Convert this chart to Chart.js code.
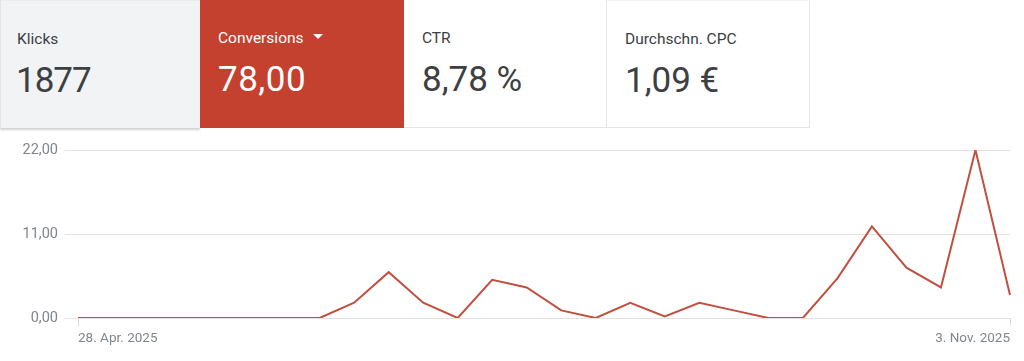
<!DOCTYPE html>
<html>
<head>
<meta charset="utf-8">
<script src="https://cdn.jsdelivr.net/npm/chart.js@4/dist/chart.umd.min.js"></script>
<style>
  html, body { margin: 0; padding: 0; background: #ffffff; }
  body { width: 1024px; height: 361px; position: relative; overflow: hidden; font-family: Roboto, "Noto Sans", sans-serif; }
  .card { position: absolute; top: 0; height: 128px; box-sizing: border-box; }
  .lbl { position: absolute; left: 16px; top: 29px; font-size: 15.5px; line-height: 18px; }
  .val { position: absolute; left: 15px; top: 59px; font-size: 35px; line-height: 42px; }
  #c1 { left: 0; width: 200px; background: #f1f3f4; border-left: 1px solid #e3e3e3; border-top: 1px solid #ececec; box-shadow: 0 2px 2px rgba(0,0,0,0.18); color: #3c4043; }
  #c2 { left: 200px; width: 204px; background: #c5412f; color: #ffffff; }
  #c3 { left: 404px; width: 203px; background: #fff; border-right: 1px solid #e6e6e6; border-bottom: 1px solid #e6e6e6; color: #3c4043; }
  #c4 { left: 607px; width: 203px; background: #fff; border-right: 1px solid #e6e6e6; border-bottom: 1px solid #e6e6e6; border-top: 1px solid #f0f0f0; color: #3c4043; }
  .tri { display: inline-block; width: 0; height: 0; border-left: 5px solid transparent; border-right: 5px solid transparent; border-top: 5px solid #fff; margin-left: 9px; vertical-align: middle; position: relative; top: -2px; }
  #wrap { position: absolute; left: 0; top: 130px; width: 1024px; height: 231px; }
</style>
</head>
<body>
<div class="card" id="c1"><div class="lbl">Klicks</div><div class="val" style="letter-spacing:-1px">1877</div></div>
<div class="card" id="c2"><div class="lbl" style="left:18px">Conversions<span class="tri"></span></div><div class="val" style="left:18px;letter-spacing:0.5px">78,00</div></div>
<div class="card" id="c3"><div class="lbl" style="left:18px">CTR</div><div class="val" style="left:18px">8,78 %</div></div>
<div class="card" id="c4"><div class="lbl" style="left:18px">Durchschn. CPC</div><div class="val" style="left:18px">1,09 €</div></div>
<div id="wrap"><canvas id="chart" width="1024" height="231"></canvas></div>
<script>
const categories = [
  "28. Apr. 2025", "5. Mai 2025", "12. Mai 2025", "19. Mai 2025", "26. Mai 2025",
  "2. Juni 2025", "9. Juni 2025", "16. Juni 2025", "23. Juni 2025", "30. Juni 2025",
  "7. Juli 2025", "14. Juli 2025", "21. Juli 2025", "28. Juli 2025", "4. Aug. 2025",
  "11. Aug. 2025", "18. Aug. 2025", "25. Aug. 2025", "1. Sept. 2025", "8. Sept. 2025",
  "15. Sept. 2025", "22. Sept. 2025", "29. Sept. 2025", "6. Okt. 2025", "13. Okt. 2025",
  "20. Okt. 2025", "27. Okt. 2025", "3. Nov. 2025"
];
const conversions = [
  0, 0, 0, 0, 0, 0, 0, 0, 2, 6,
  2, 0, 5, 4, 1, 0, 2, 0.2, 2, 1,
  0, 0, 5.2, 12, 6.6, 4, 22, 3
];
const yTicks = [0, 11, 22];

new Chart(document.getElementById('chart'), {
  type: 'line',
  data: {
    labels: categories,
    datasets: [{
      label: 'Conversions',
      data: conversions,
      borderColor: '#c0503f',
      borderWidth: 2,
      pointRadius: 0,
      tension: 0,
      fill: false
    }]
  },
  options: {
    responsive: false,
    animation: false,
    layout: { padding: { top: 20, right: 14, left: 0, bottom: 0 } },
    plugins: { legend: { display: false }, tooltip: { enabled: false } },
    scales: {
      x: {
        afterFit: s => { s.height = 43; },
        border: { display: false },
        grid: {
          drawOnChartArea: false,
          tickLength: 8,
          color: ctx => (ctx.index === 0 || ctx.index === categories.length - 1) ? '#dadada' : 'rgba(0,0,0,0)'
        },
        ticks: {
          autoSkip: false,
          maxRotation: 0,
          align: 'inner',
          padding: 5,
          color: '#80868b',
          font: { family: 'Roboto', size: 13.5 },
          callback: (v, i) => (i === 0 || i === categories.length - 1) ? categories[i] : ''
        }
      },
      y: {
        min: yTicks[0],
        max: yTicks[yTicks.length - 1],
        afterFit: s => { s.width = 78; },
        afterBuildTicks: s => { s.ticks = yTicks.map(v => ({ value: v })); },
        border: { display: false },
        grid: { color: '#e3e3e3', tickColor: '#e3e3e3', tickLength: 13, lineWidth: 1 },
        ticks: {
          padding: 7,
          color: '#80868b',
          font: { family: 'Roboto', size: 14.5 },
          callback: v => v.toFixed(2).replace('.', ',')
        }
      }
    }
  }
});
</script>
</body>
</html>
